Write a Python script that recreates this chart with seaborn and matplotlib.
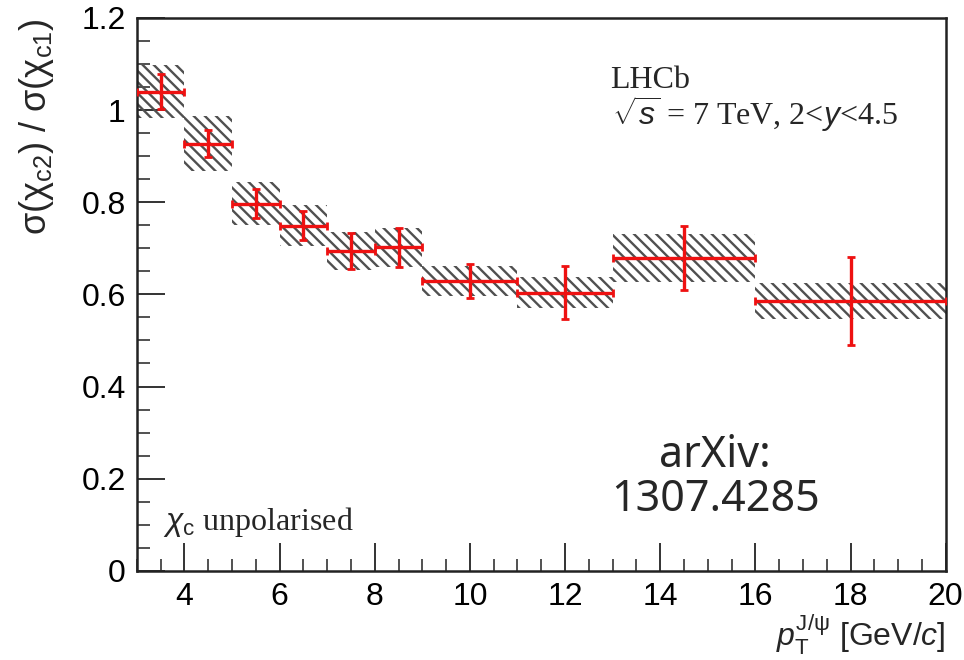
import numpy as np
import pandas as pd
import matplotlib
matplotlib.use("Agg")
import matplotlib.pyplot as plt
from matplotlib.ticker import MultipleLocator
import seaborn as sns

# pT bins of J/psi [GeV/c]
bin_lo = [3, 4, 5, 6, 7, 8, 9, 11, 13, 16]
bin_hi = [4, 5, 6, 7, 8, 9, 11, 13, 16, 20]
# ratio sigma(chi_c2)/sigma(chi_c1)
ratio = [1.040, 0.927, 0.797, 0.749, 0.694, 0.702, 0.629, 0.604, 0.679, 0.585]
stat_err = [0.038, 0.030, 0.031, 0.032, 0.040, 0.043, 0.036, 0.058, 0.069, 0.095]
syst_err = [0.058, 0.060, 0.047, 0.045, 0.041, 0.042, 0.033, 0.034, 0.052, 0.039]

df = pd.DataFrame({"lo": bin_lo, "hi": bin_hi, "ratio": ratio,
                   "stat": stat_err, "syst": syst_err})
df["center"] = (df.lo + df.hi) / 2
df["halfwidth"] = (df.hi - df.lo) / 2

sns.set_style("ticks")
plt.rcParams["hatch.linewidth"] = 1.7
plt.rcParams["font.family"] = ["Liberation Sans", "DejaVu Sans"]
plt.rcParams["mathtext.fontset"] = "custom"
plt.rcParams["mathtext.rm"] = "Liberation Sans"
plt.rcParams["mathtext.it"] = "Liberation Sans:italic"

fig = plt.figure(figsize=(9.64, 6.6), dpi=100)
ax = fig.add_axes([0.142, 0.135, 0.839, 0.838])

# systematic boxes (hatched)
ax.bar(df.center, 2 * df.syst, width=df.hi - df.lo, bottom=df.ratio - df.syst,
       color="none", edgecolor="#505050", linewidth=0, hatch="\\\\\\", zorder=1)

# statistical crosses
ax.errorbar(df.center, df.ratio, xerr=df.halfwidth, yerr=df.stat, fmt="none",
            ecolor="#ee1111", elinewidth=2.4, capsize=3, capthick=2.0, zorder=3)

ax.set_xlim(3, 20)
ax.set_ylim(0, 1.2)
ax.xaxis.set_major_locator(MultipleLocator(2))
ax.xaxis.set_minor_locator(MultipleLocator(0.5))
ax.yaxis.set_major_locator(MultipleLocator(0.2))
ax.yaxis.set_minor_locator(MultipleLocator(0.05))
ax.set_yticks([0, 0.2, 0.4, 0.6, 0.8, 1.0, 1.2])
ax.set_yticklabels(["0", "0.2", "0.4", "0.6", "0.8", "1", "1.2"])
ax.set_xticks([4, 6, 8, 10, 12, 14, 16, 18, 20])
ax.tick_params(axis="both", which="major", direction="in", length=20, width=1.4,
               labelsize=23, pad=8, colors="#333333", labelcolor="black")
ax.tick_params(axis="both", which="minor", direction="in", length=9, width=1.2,
               colors="#333333")
for s in ax.spines.values():
    s.set_linewidth(1.8)
    s.set_color("#222222")

ax.set_ylabel("\u03c3(\u03c7$_{\\mathrm{c2}}$) / \u03c3(\u03c7$_{\\mathrm{c1}}$)",
              fontsize=26, loc="top")
ax.yaxis.set_label_coords(-0.1, 1.0)
ax.set_xlabel(r"$p_{\mathrm{T}}^{\mathrm{J/\psi}}$ [GeV/$c$]", fontsize=23, loc="right")
ax.xaxis.set_label_coords(1.0, -0.075)

serif = ["Liberation Serif", "DejaVu Serif"]
ax.text(0.585, 0.873, "LHCb", transform=ax.transAxes, fontsize=23, family=serif)
ax.text(0.587, 0.806, r"$\sqrt{\mathit{s}}$ = 7 TeV, 2<$\mathit{y}$<4.5",
        transform=ax.transAxes, fontsize=23, family=serif)
ax.text(0.032, 0.074, r"$\chi_{\mathrm{c}}$ unpolarised", transform=ax.transAxes,
        fontsize=23, family=serif)
ax.text(0.715, 0.168, "arXiv:\n1307.4285", transform=ax.transAxes, fontsize=31,
        ha="center", va="center", linespacing=1.0, family=["Noto Sans", "DejaVu Sans"])

fig.savefig("out.png", dpi=100)
